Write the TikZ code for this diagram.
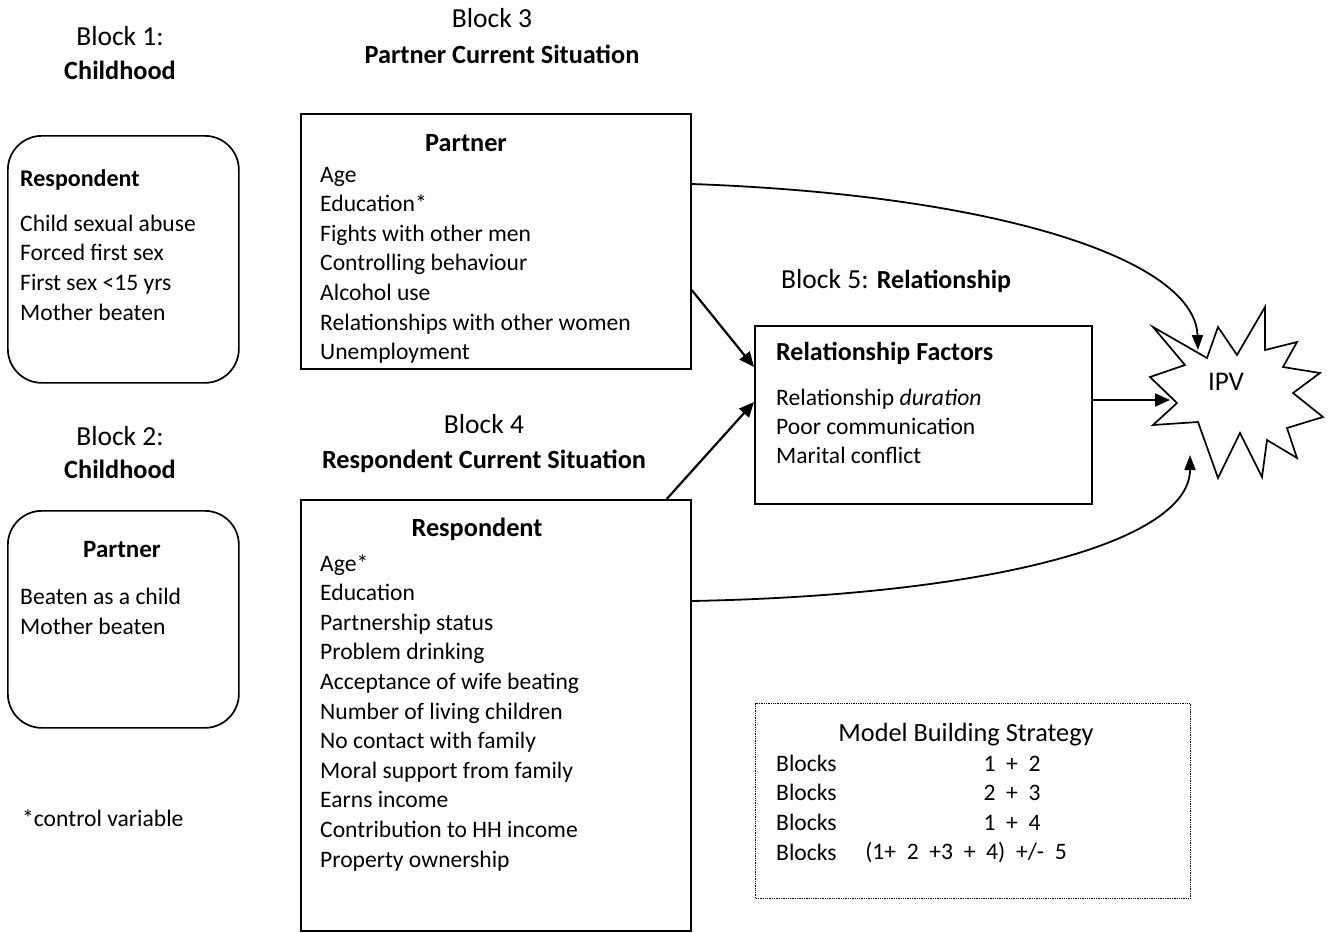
\documentclass[tikz,border=0pt]{standalone}
\usepackage{fontspec}
\setmainfont{Carlito}
\usetikzlibrary{arrows.meta,calc}
\begin{document}
\begin{tikzpicture}[x=1pt,y=-1pt,
  tit/.style={font=\fontsize{27.5}{32}\selectfont, anchor=base, inner sep=0},
  sub/.style={font=\fontsize{26.3}{30}\selectfont\bfseries, anchor=base, inner sep=0},
  body/.style={font=\fontsize{23.6}{29.6}\selectfont, align=left, anchor=base west, inner sep=0},
  rbox/.style={draw, line width=1.7pt, rounded corners=34pt, anchor=north west, inner sep=0},
  sbox/.style={draw, line width=1.7pt, anchor=north west, inner sep=0},
  dbox/.style={draw, line width=1.3pt, densely dotted, anchor=north west, inner sep=0},
  arr/.style={line width=2.2pt, -{Triangle[length=15pt,width=13pt]}},
  curvearr/.style={line width=1.8pt, -{Triangle[length=15pt,width=11pt]}}
]
\useasboundingbox (0,0) rectangle (1331,932);

% Block 1 (multi-line nodes: base = baseline of last line)
\node[tit] (t1) at (120,45) {Block 1:};
\node[sub] (s1) at (120,79) {Childhood};
\node[rbox, minimum width=231pt, minimum height=247pt] (b1) at (7,135) {};
\node[body, font=\fontsize{24}{28}\selectfont\bfseries] (b1h) at (20,186) {Respondent};
\node[body] (b1t) at (20,320) {Child sexual abuse\\Forced first sex\\First sex <15 yrs\\Mother beaten};

% Block 2
\node[tit] (t2) at (120,445) {Block 2:};
\node[sub] (s2) at (120,478) {Childhood};
\node[rbox, minimum width=231pt, minimum height=217pt] (b2) at (7,510) {};
\node[sub, font=\fontsize{25}{28}\selectfont\bfseries] (b2h) at (122,557) {Partner};
\node[body] (b2t) at (20,634) {Beaten as a child\\Mother beaten};

\node[body] (cv) at (22,826) {*control variable};

% Block 3
\node[tit] (t3) at (492,27) {Block 3};
\node[sub] (s3) at (502,63) {Partner Current Situation};
\node[sbox, minimum width=390pt, minimum height=255pt] (b3) at (300,113) {};
\node[sub] (b3h) at (466,151) {Partner};
\node[body] (b3t) at (320,359.6) {Age\\Education*\\Fights with other men\\Controlling behaviour\\Alcohol use\\Relationships with other women\\Unemployment};

% Block 4
\node[tit] (t4) at (484,433) {Block 4};
\node[sub] (s4) at (484,468) {Respondent Current Situation};
\node[sbox, minimum width=390pt, minimum height=431pt] (b4) at (300,499) {};
\node[sub] (b4h) at (477,536) {Respondent};
\node[body] (b4t) at (320,867) {Age*\\Education\\Partnership status\\Problem drinking\\Acceptance of wife beating\\Number of living children\\No contact with family\\Moral support from family\\Earns income\\Contribution to HH income\\Property ownership};

% Block 5
\node[body, font=\fontsize{27.5}{30}\selectfont] (t5) at (781,288) {Block 5: \textbf{\fontsize{26}{30}\selectfont Relationship}};
\node[sbox, minimum width=337pt, minimum height=178pt] (b5) at (754,325) {};
\node[body, font=\fontsize{26}{30}\selectfont\bfseries] (b5h) at (776,360) {Relationship Factors};
\node[body, font=\fontsize{23.6}{29}\selectfont] (b5t) at (776,463) {Relationship \textit{duration}\\Poor communication\\Marital conflict};

% IPV star
\draw[line width=1.7pt, line join=miter] (1153,327) -- (1207,358) -- (1218,327) -- (1237,355) -- (1265,307) -- (1265,350) -- (1297,342) -- (1283,367) -- (1320,373) -- (1293,393) -- (1323,417) -- (1287,428) -- (1297,458) -- (1267,440) -- (1262,477) -- (1240,433) -- (1218,478) -- (1198,422) -- (1153,425) -- (1177,403) -- (1150,377) -- (1185,365) -- cycle;
\node[font=\fontsize{27}{30}\selectfont, inner sep=0] (ipv) at (1226,382) {IPV};
\coordinate (ipvtop) at (1198,350);
\coordinate (ipvleft) at (1170,400);
\coordinate (ipvbot) at (1190,455);

% Model building strategy
\node[dbox, minimum width=435pt, minimum height=195pt] (mb) at (755,703) {};
\node[body, anchor=base, font=\fontsize{26.3}{30}\selectfont] (mbh) at (966,741) {Model Building Strategy};
\node[body] (mbl) at (776,860) {Blocks\\Blocks\\Blocks\\Blocks};
\node[body, anchor=base] (m1) at (1012,771) {1\ \ +\ \ 2};
\node[body, anchor=base] (m2) at (1012,800.6) {2\ \ +\ \ 3};
\node[body, anchor=base] (m3) at (1012,830.2) {1\ \ +\ \ 4};
\node[body, anchor=base] (m4) at (966,859.8) {(1+\ \ 2\ \ +3\ \ +\ \ 4)\ \ +/-\ \ 5};

% connectors
\draw[curvearr] ($(b3.north east)+(0,71)$) .. controls (1000,195) and (1195,260) .. (ipvtop);
\draw[curvearr] ($(b4.north east)+(0,102)$) .. controls (1000,595) and (1190,540) .. (ipvbot);
\draw[arr] ($(b3.north east)+(0,177)$) -- ($(b5.north west)+(0,42)$);
\draw[arr] ($(b4.north east)+(-25,0)$) -- ($(b5.north west)+(0,77)$);
\draw[arr] ($(b5.north east)+(0,75)$) -- (ipvleft);
\end{tikzpicture}
\end{document}
